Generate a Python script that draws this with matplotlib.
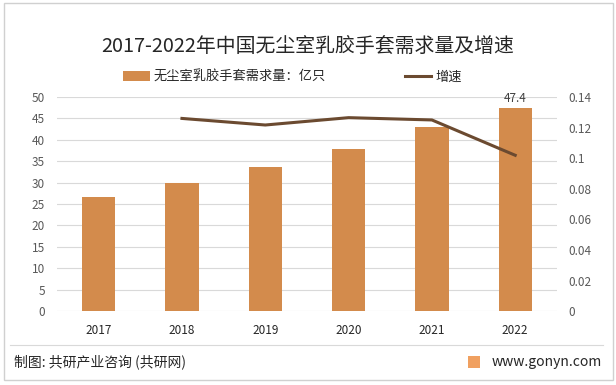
import matplotlib
matplotlib.use('Agg')
import matplotlib.pyplot as plt
from matplotlib.lines import Line2D
from matplotlib.patches import Rectangle, Patch

plt.rcParams['font.family'] = ['Noto Sans CJK SC', 'DejaVu Sans']

# Данные
years = ['2017', '2018', '2019', '2020', '2021', '2022']
demand = [26.7, 30.0, 33.7, 37.9, 42.9, 47.4]
growth_years = ['2018', '2019', '2020', '2021', '2022']
growth = [0.126, 0.1217, 0.1265, 0.125, 0.1019]

bar_color = '#D38B4C'
line_color = '#6B4A30'
grid_color = '#D9D9D9'
tick_color = '#595959'

fig = plt.figure(figsize=(6.16, 3.85), dpi=100)
ax = fig.add_axes([0.0925, 0.192, 0.8115, 0.556])

x = list(range(len(years)))
ax.bar(x, demand, width=0.4, color=bar_color, zorder=2)
ax.set_ylim(0, 50)
ax.set_yticks(range(0, 51, 5))
ax.set_xlim(-0.5, len(years) - 0.5)
ax.set_xticks(x)
ax.set_xticklabels(years)
ax.grid(axis='y', color=grid_color, linewidth=0.8, zorder=0)
for s in ax.spines.values():
    s.set_visible(False)
ax.tick_params(axis='y', length=0, pad=8.5, labelsize=8.5, labelcolor=tick_color)
ax.tick_params(axis='x', length=0, pad=9, labelsize=8.5, labelcolor='#262626')

# подпись последнего столбца
ax.text(x[-1], demand[-1] + 0.8, '47.4', ha='center', va='bottom', fontsize=8.5, color='#404040')

ax2 = ax.twinx()
gx = [years.index(y) for y in growth_years]
ax2.plot(gx, growth, color=line_color, linewidth=2.2, zorder=3)
ax2.set_ylim(0, 0.14)
ax2.set_yticks([0, 0.02, 0.04, 0.06, 0.08, 0.1, 0.12, 0.14])
ax2.set_yticklabels(['0', '0.02', '0.04', '0.06', '0.08', '0.1', '0.12', '0.14'])
ax2.tick_params(axis='y', length=0, pad=8, labelsize=8.5, labelcolor=tick_color)
for s in ax2.spines.values():
    s.set_visible(False)

# Заголовок
fig.text(0.5, 1 - 46 / 385, '2017-2022年中国无尘室乳胶手套需求量及增速', ha='center', va='center',
         fontsize=14.3, color='#262626')

# Легенда
handles = [Patch(facecolor=bar_color, edgecolor='none'),
           Line2D([0], [0], color=line_color, linewidth=2.2)]
labels = ['无尘室乳胶手套需求量：亿只', '增速']
fig.legend(handles, labels, loc='center', bbox_to_anchor=(0.475, 1 - 77 / 385), ncol=2,
           frameon=False, fontsize=9.5, handlelength=2.0, handleheight=0.7,
           columnspacing=6.0, handletextpad=0.3, labelcolor='#262626')

# Рамка и подвал
fig.add_artist(Rectangle((4 / 616, 5 / 385), 609 / 616, 377 / 385, transform=fig.transFigure,
                         fill=False, edgecolor='#D0D0D0', linewidth=1.0))
fig.add_artist(Line2D([10 / 616, 603 / 616], [1 - 345 / 385, 1 - 345 / 385], transform=fig.transFigure,
                      color='#D9D9D9', linewidth=0.8))
fig.text(14 / 616, 1 - 362 / 385, '制图: 共研产业咨询 (共研网)', ha='left', va='center',
         fontsize=10, color='#262626')
fig.text(602 / 616, 1 - 362 / 385, 'www.gonyn.com', ha='right', va='center',
         fontsize=10, color='#262626')
fig.add_artist(Rectangle((468 / 616, 1 - 368 / 385), 12 / 616, 12 / 385, transform=fig.transFigure,
                         facecolor='#F0A060', edgecolor='none'))

fig.savefig('out.png', dpi=100)
